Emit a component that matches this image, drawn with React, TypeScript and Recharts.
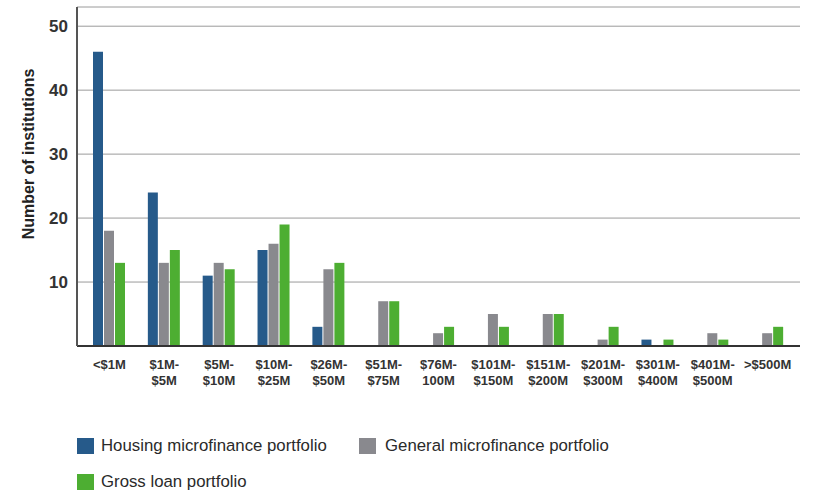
import { BarChart, Bar, XAxis, YAxis, CartesianGrid, Legend } from 'recharts';

const categories = [
  '<$1M', '$1M-\n$5M', '$5M-\n$10M', '$10M-\n$25M', '$26M-\n$50M', '$51M-\n$75M', '$76M-\n100M',
  '$101M-\n$150M', '$151M-\n$200M', '$201M-\n$300M', '$301M-\n$400M', '$401M-\n$500M', '>$500M',
];
const housing = [46, 24, 11, 15, 3, 0, 0, 0, 0, 0, 1, 0, 0];
const general = [18, 13, 13, 16, 12, 7, 2, 5, 5, 1, 0, 2, 2];
const gross = [13, 15, 12, 19, 13, 7, 3, 3, 5, 3, 1, 1, 3];
const yTicks = [10, 20, 30, 40, 50];

const series = [
  { key: 'housing', name: 'Housing microfinance portfolio', color: '#265a8a' },
  { key: 'general', name: 'General microfinance portfolio', color: '#89898e' },
  { key: 'gross', name: 'Gross loan portfolio', color: '#4dae32' },
];

const data = categories.map((c, i) => ({
  range: c,
  housing: housing[i],
  general: general[i],
  gross: gross[i],
}));

const FONT = '"Liberation Sans", Arial, Helvetica, sans-serif';

function RangeTick({ x, y, payload }: any) {
  const lines = String(payload.value).split('\n');
  return (
    <g>
      {lines.map((ln, i) => (
        <text
          key={i}
          x={x}
          y={y + 23 + i * 16}
          textAnchor="middle"
          fontFamily={FONT}
          fontSize={13}
          fontWeight="bold"
          fill="#333"
        >
          {ln}
        </text>
      ))}
    </g>
  );
}

function YTitle() {
  return (
    <text
      x={34}
      y={154}
      transform="rotate(-90 34 154)"
      textAnchor="middle"
      fontFamily={FONT}
      fontSize={16}
      fontWeight="bold"
      fill="#222"
    >
      Number of institutions
    </text>
  );
}

function LegendBox() {
  const pos = [
    { left: 77, top: 10, gap: 7 },
    { left: 359, top: 10, gap: 9 },
    { left: 77, top: 46, gap: 7 },
  ];
  return (
    <div style={{ position: 'relative', width: 814, height: 62, fontFamily: FONT }}>
      {series.map((s, i) => (
        <div key={s.key} style={{ position: 'absolute', left: pos[i].left, top: pos[i].top, display: 'flex', alignItems: 'center', whiteSpace: 'nowrap' }}>
          <span style={{ display: 'inline-block', width: 17, height: 16, background: s.color }} />
          <span style={{ marginLeft: pos[i].gap, fontSize: 16.8, color: '#2a2a2a', lineHeight: '16px' }}>{s.name}</span>
        </div>
      ))}
    </div>
  );
}

export default function App() {
  return (
    <div style={{ position: 'absolute', left: 0, top: 0, width: 814, height: 490, background: '#fff', overflow: 'hidden' }}>
      <BarChart
        width={814}
        height={490}
        data={data}
        margin={{ top: 7, right: 14, bottom: 32, left: 0 }}
        barGap={1}
        barSize={10}
      >
        <CartesianGrid vertical={false} stroke="#9a9a9a" strokeWidth={1} />
        <XAxis
          dataKey="range"
          interval={0}
          height={50}
          tick={<RangeTick />}
          tickLine={false}
          tickSize={0}
          tickMargin={0}
          padding={{ left: 5, right: 5 }}
          axisLine={{ stroke: '#333', strokeWidth: 2 }}
        />
        <YAxis
          width={77}
          domain={[0, 53]}
          ticks={yTicks}
          tickLine={false}
          tickSize={0}
          tickMargin={9}
          axisLine={{ stroke: '#555', strokeWidth: 2 }}
          tick={{ fontFamily: FONT, fontSize: 17, fontWeight: 'bold', fill: '#333' }}
          label={<YTitle />}
        />
        <Legend
          verticalAlign="bottom"
          content={<LegendBox />}
          wrapperStyle={{ left: 0, top: 428, bottom: 'auto', width: 814, height: 62 }}
        />
        {series.map((s) => (
          <Bar key={s.key} dataKey={s.key} name={s.name} fill={s.color} isAnimationActive={false} />
        ))}
      </BarChart>
    </div>
  );
}
